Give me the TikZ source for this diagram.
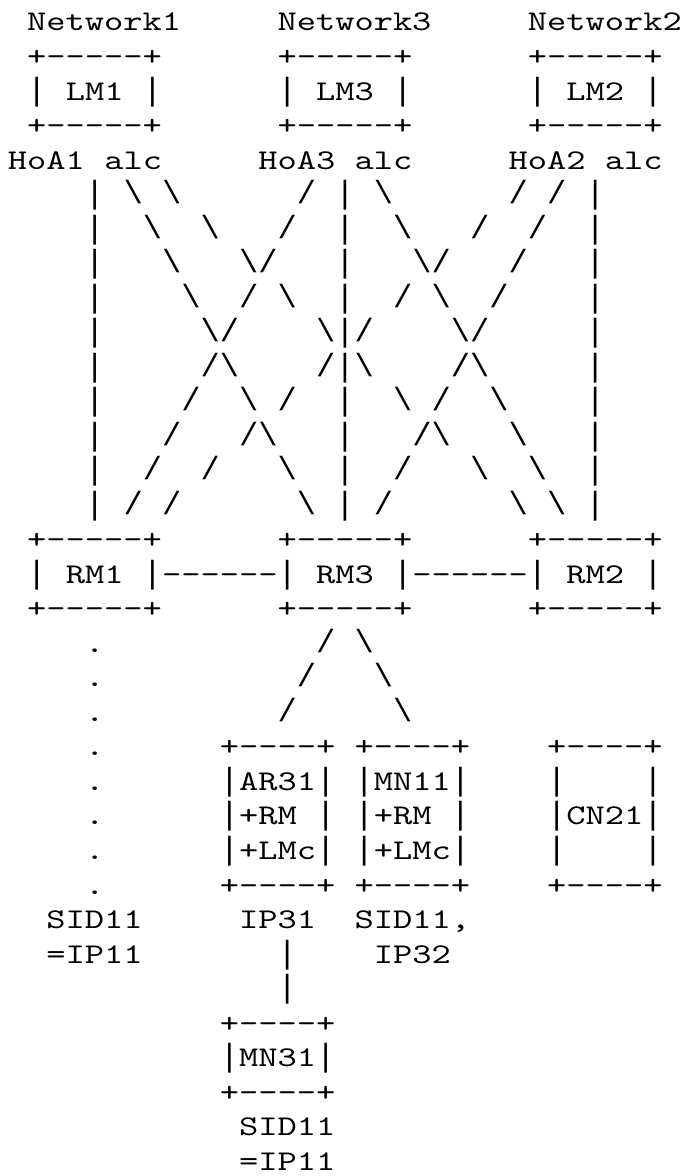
\documentclass[tikz,border=0pt]{standalone}
\usepackage{fontspec}
\setmonofont[FakeStretch=1.282]{lmmono10-regular.otf}
\newfontfamily\libm{Liberation Mono}
\newcommand{\asc}[3]{\node[txt] (r#1c#2) at ({4pt+#2*9.625pt},{-15.5pt-(#1-1)*17.26pt}) {#3};}
\newcommand{\bs}{{\libm\fontsize{16.04pt}{17.3pt}\selectfont\textbackslash}}
\newcommand{\fwd}{{\libm\fontsize{16.04pt}{17.3pt}\selectfont/}}
\newcommand{\vb}{{\libm\fontsize{16.04pt}{17.3pt}\selectfont|}}
\begin{document}
\begin{tikzpicture}[txt/.style={anchor=base west,inner sep=0pt,outer sep=0pt,font=\ttfamily\fontsize{14.3pt}{17.3pt}\selectfont}]
\fill[white] (0,0) rectangle (342.5pt,-588pt);
\useasboundingbox (0,0) rectangle (342.5pt,-588pt);
% header
\asc{1}{1}{Network1}\asc{1}{14}{Network3}\asc{1}{27}{Network2}
\asc{2}{1}{+-----+}\asc{2}{14}{+-----+}\asc{2}{27}{+-----+}
\asc{3}{1}{\vb}\asc{3}{3}{LM1}\asc{3}{7}{\vb}
\asc{3}{14}{\vb}\asc{3}{16}{LM3}\asc{3}{20}{\vb}
\asc{3}{27}{\vb}\asc{3}{29}{LM2}\asc{3}{33}{\vb}
\asc{4}{1}{+-----+}\asc{4}{14}{+-----+}\asc{4}{27}{+-----+}
\asc{5}{0}{HoA1}\asc{5}{5}{alc}\asc{5}{13}{HoA3}\asc{5}{18}{alc}\asc{5}{26}{HoA2}\asc{5}{31}{alc}
% crossing lines
\asc{6}{4}{\vb}\asc{6}{6}{\bs}\asc{6}{8}{\bs}\asc{6}{15}{\fwd}\asc{6}{17}{\vb}\asc{6}{19}{\bs}\asc{6}{26}{\fwd}\asc{6}{28}{\fwd}\asc{6}{30}{\vb}
\asc{7}{4}{\vb}\asc{7}{7}{\bs}\asc{7}{10}{\bs}\asc{7}{14}{\fwd}\asc{7}{17}{\vb}\asc{7}{20}{\bs}\asc{7}{24}{\fwd}\asc{7}{27}{\fwd}\asc{7}{30}{\vb}
\asc{8}{4}{\vb}\asc{8}{8}{\bs}\asc{8}{12}{\bs}\asc{8}{13}{\fwd}\asc{8}{17}{\vb}\asc{8}{21}{\bs}\asc{8}{22}{\fwd}\asc{8}{26}{\fwd}\asc{8}{30}{\vb}
\asc{9}{4}{\vb}\asc{9}{9}{\bs}\asc{9}{12}{\fwd}\asc{9}{14}{\bs}\asc{9}{17}{\vb}\asc{9}{20}{\fwd}\asc{9}{22}{\bs}\asc{9}{25}{\fwd}\asc{9}{30}{\vb}
\asc{10}{4}{\vb}\asc{10}{10}{\bs}\asc{10}{11}{\fwd}\asc{10}{16}{\bs}\asc{10}{17}{\vb}\asc{10}{18}{\fwd}\asc{10}{23}{\bs}\asc{10}{24}{\fwd}\asc{10}{30}{\vb}
\asc{11}{4}{\vb}\asc{11}{10}{\fwd}\asc{11}{11}{\bs}\asc{11}{16}{\fwd}\asc{11}{17}{\vb}\asc{11}{18}{\bs}\asc{11}{23}{\fwd}\asc{11}{24}{\bs}\asc{11}{30}{\vb}
\asc{12}{4}{\vb}\asc{12}{9}{\fwd}\asc{12}{12}{\bs}\asc{12}{14}{\fwd}\asc{12}{17}{\vb}\asc{12}{20}{\bs}\asc{12}{22}{\fwd}\asc{12}{25}{\bs}\asc{12}{30}{\vb}
\asc{13}{4}{\vb}\asc{13}{8}{\fwd}\asc{13}{12}{\fwd}\asc{13}{13}{\bs}\asc{13}{17}{\vb}\asc{13}{21}{\fwd}\asc{13}{22}{\bs}\asc{13}{26}{\bs}\asc{13}{30}{\vb}
\asc{14}{4}{\vb}\asc{14}{7}{\fwd}\asc{14}{10}{\fwd}\asc{14}{14}{\bs}\asc{14}{17}{\vb}\asc{14}{20}{\fwd}\asc{14}{24}{\bs}\asc{14}{27}{\bs}\asc{14}{30}{\vb}
\asc{15}{4}{\vb}\asc{15}{6}{\fwd}\asc{15}{8}{\fwd}\asc{15}{15}{\bs}\asc{15}{17}{\vb}\asc{15}{19}{\fwd}\asc{15}{26}{\bs}\asc{15}{28}{\bs}\asc{15}{30}{\vb}
% RM row
\asc{16}{1}{+-----+}\asc{16}{14}{+-----+}\asc{16}{27}{+-----+}
\asc{17}{1}{\vb}\asc{17}{3}{RM1}\asc{17}{7}{\vb------\vb}\asc{17}{16}{RM3}\asc{17}{20}{\vb------\vb}\asc{17}{29}{RM2}\asc{17}{33}{\vb}
\asc{18}{1}{+-----+}\asc{18}{14}{+-----+}\asc{18}{27}{+-----+}
% lower part
\asc{19}{4}{.}\asc{19}{16}{\fwd}\asc{19}{18}{\bs}
\asc{20}{4}{.}\asc{20}{15}{\fwd}\asc{20}{19}{\bs}
\asc{21}{4}{.}\asc{21}{14}{\fwd}\asc{21}{20}{\bs}
\asc{22}{4}{.}\asc{22}{11}{+----+}\asc{22}{18}{+----+}\asc{22}{28}{+----+}
\asc{23}{4}{.}\asc{23}{11}{\vb AR31\vb}\asc{23}{18}{\vb MN11\vb}\asc{23}{28}{\vb}\asc{23}{33}{\vb}
\asc{24}{4}{.}\asc{24}{11}{\vb+RM}\asc{24}{16}{\vb}\asc{24}{18}{\vb+RM}\asc{24}{23}{\vb}\asc{24}{28}{\vb CN21\vb}
\asc{25}{4}{.}\asc{25}{11}{\vb+LMc\vb}\asc{25}{18}{\vb+LMc\vb}\asc{25}{28}{\vb}\asc{25}{33}{\vb}
\asc{26}{4}{.}\asc{26}{11}{+----+}\asc{26}{18}{+----+}\asc{26}{28}{+----+}
\asc{27}{2}{SID11}\asc{27}{12}{IP31}\asc{27}{18}{SID11,}
\asc{28}{2}{=IP11}\asc{28}{14}{\vb}\asc{28}{19}{IP32}
\asc{29}{14}{\vb}
\asc{30}{11}{+----+}
\asc{31}{11}{\vb MN31\vb}
\asc{32}{11}{+----+}
\asc{33}{12}{SID11}
\asc{34}{12}{=IP11}
\end{tikzpicture}
\end{document}
